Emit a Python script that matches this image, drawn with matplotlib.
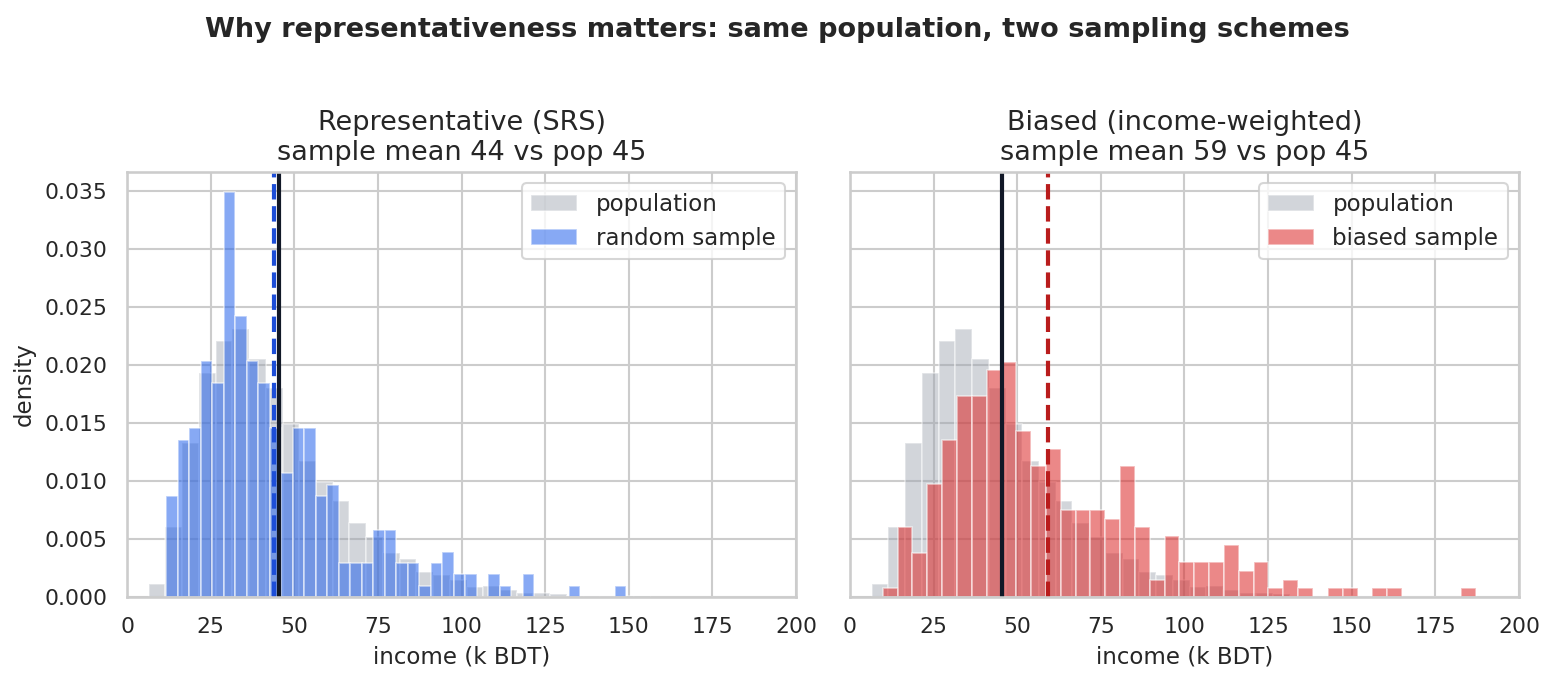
import numpy as np
import matplotlib
matplotlib.use("Agg")
import matplotlib.pyplot as plt
import seaborn as sns

# ---------------- data ----------------
# population histogram (density), 40 bins of width 5 starting at 6.5
pop_edges = np.linspace(6.5, 206.5, 41)
pop_density = [0.00112, 0.00599, 0.01331, 0.01930, 0.02204, 0.02308, 0.02048, 0.01798,
               0.01487, 0.01175, 0.00994, 0.00830, 0.00640, 0.00519, 0.00383, 0.00328,
               0.00214, 0.00190, 0.00143, 0.00089, 0.00098, 0.00064, 0.00038, 0.00038,
               0.00026, 0.00010, 0.00010, 0.00010, 0.00010, 0.00005, 0.0, 0.0,
               0.0, 0.0, 0.0, 0.0, 0.0, 0.0, 0.0, 0.0]

# random (SRS) sample histogram (density), 40 bins
srs_edges = np.linspace(11.7, 149.3, 41)
srs_density = [0.00872, 0.01357, 0.01454, 0.02035, 0.01841, 0.03488, 0.02423, 0.02035,
               0.01841, 0.01454, 0.01066, 0.01454, 0.01454, 0.00872, 0.00969, 0.00291,
               0.00291, 0.00291, 0.00581, 0.00581, 0.00291, 0.00291, 0.00097, 0.00291,
               0.00388, 0.00194, 0.00194, 0.0, 0.00194, 0.00097, 0.0, 0.00194,
               0.0, 0.0, 0.0, 0.00097, 0.0, 0.0, 0.0, 0.00097]

# biased (income-weighted) sample histogram (density), 40 bins
biased_edges = np.linspace(9.8, 187.2, 41)
biased_density = [0.00075, 0.00601, 0.00376, 0.00977, 0.01353, 0.01729, 0.01729, 0.01954,
                  0.02029, 0.01428, 0.01127, 0.01278, 0.00752, 0.00752, 0.00752, 0.00676,
                  0.01127, 0.00601, 0.00150, 0.00526, 0.00301, 0.00301, 0.00301, 0.00451,
                  0.00225, 0.00301, 0.00075, 0.00150, 0.00075, 0.0, 0.00075, 0.00075,
                  0.0, 0.00075, 0.00075, 0.0, 0.0, 0.0, 0.0, 0.00075]

pop_mean = 45.3
srs_mean = 43.9
biased_mean = 59.3

panel_titles = ["Representative (SRS)\nsample mean 44 vs pop 45",
                "Biased (income-weighted)\nsample mean 59 vs pop 45"]
sample_labels = ["random sample", "biased sample"]
suptitle = "Why representativeness matters: same population, two sampling schemes"

# ---------------- style ----------------
sns.set_theme(style="whitegrid")
plt.rcParams["font.family"] = ["DejaVu Sans"]

W, H, DPI = 1555, 681, 150
fig, axes = plt.subplots(1, 2, figsize=(W / DPI, H / DPI), dpi=DPI, sharey=True)
fig.subplots_adjust(left=127 / W, right=1519 / W, bottom=1 - 597 / H,
                    top=1 - 172 / H, wspace=0.0807)

panels = [
    (srs_edges, srs_density, "#2563eb", "#1d4ed8", srs_mean),
    (biased_edges, biased_density, "#dc2626", "#b91c1c", biased_mean),
]

for ax, (edges, dens, col, lcol, m), title, lab in zip(axes, panels, panel_titles, sample_labels):
    pe = np.asarray(pop_edges)
    ax.bar(pe[:-1], pop_density, width=np.diff(pe), align="edge",
           color="#9ca3af", alpha=0.45, edgecolor="white", linewidth=0.8,
           label="population")
    se = np.asarray(edges)
    ax.bar(se[:-1], dens, width=np.diff(se), align="edge",
           color=col, alpha=0.55, edgecolor="white", linewidth=0.8, label=lab)
    ax.axvline(pop_mean, color="#111827", lw=2)
    ax.axvline(m, color=lcol, lw=2, ls="--")
    ax.set_xlim(0, 200)
    ax.set_title(title, fontsize=13)
    ax.set_xlabel("income (k BDT)", fontsize=11)
    ax.tick_params(labelsize=10.5)
    ax.legend(loc="upper right", fontsize=11)

axes[0].set_ylabel("density", fontsize=11)
fig.suptitle(suptitle, fontsize=13, fontweight="bold", y=0.975)

fig.savefig("out.png", dpi=DPI)
